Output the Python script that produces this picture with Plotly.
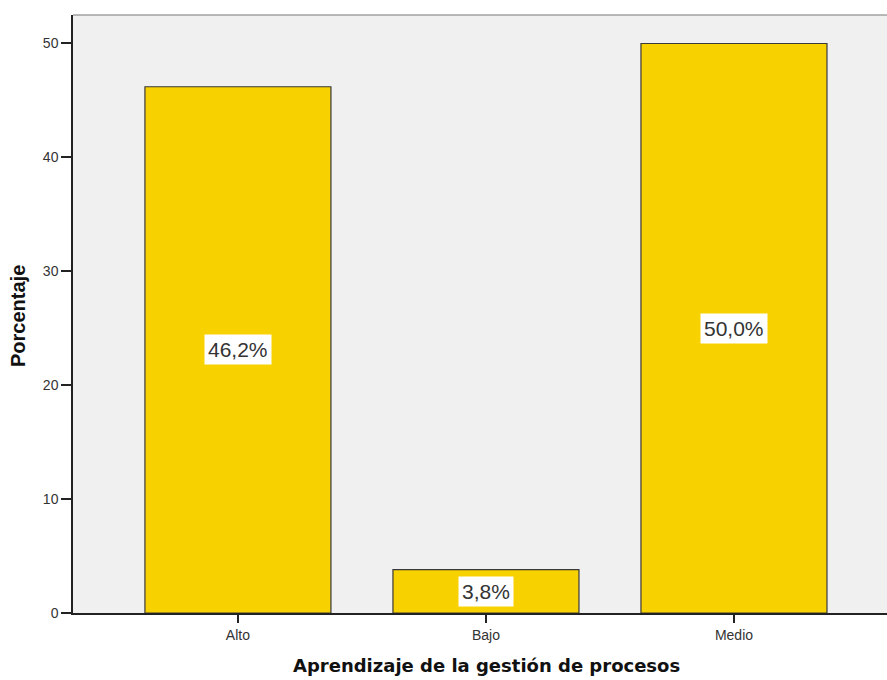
import plotly.graph_objects as go

categories = ["Alto", "Bajo", "Medio"]
values = [46.2, 3.8, 50.0]
labels = ["46,2%", "3,8%", "50,0%"]
y_ticks = [0, 10, 20, 30, 40, 50]
x_title = "Aprendizaje de la gestión de procesos"
y_title = "Porcentaje"

fig = go.Figure()
fig.add_trace(go.Bar(
    x=[0, 1, 2], y=values, width=0.75,
    marker=dict(color="#f8d100", line=dict(color="#3a3a3a", width=1.2)),
    hoverinfo="skip",
))

for i, (v, t) in enumerate(zip(values, labels)):
    fig.add_annotation(x=i, y=v / 2, text=t, showarrow=False,
                       font=dict(family="Liberation Sans, Arial", size=21, color="#333333"),
                       bgcolor="white", borderpad=3)

fig.add_shape(type="line", xref="paper", yref="paper", x0=0, x1=1, y0=1, y1=1,
              line=dict(color="#777777", width=1.2))

# axis titles
fig.add_annotation(xref="paper", yref="paper", x=(486 - 73) / (887 - 73), y=-52 / 598,
                   text="<b>" + x_title + "</b>", showarrow=False,
                   xanchor="center", yanchor="middle",
                   font=dict(family="DejaVu Sans, Verdana", size=18, color="#111111"))
fig.add_annotation(xref="paper", yref="paper", x=-55 / 814, y=(613 - 316) / 598,
                   text="<b>" + y_title + "</b>", showarrow=False, textangle=-90,
                   xanchor="center", yanchor="middle",
                   font=dict(family="Liberation Sans, Arial", size=20, color="#111111"))

fig.update_layout(
    width=887, height=680,
    margin=dict(l=73, r=0, t=15, b=67, autoexpand=False),
    paper_bgcolor="white", plot_bgcolor="#f0f0f0",
    showlegend=False,
    bargap=0.25,
    xaxis=dict(
        range=[-0.665, 2.617], tickvals=[0, 1, 2], ticktext=categories,
        ticks="outside", ticklen=8, tickwidth=1.5, tickcolor="#222222",
        showline=True, linecolor="#222222", linewidth=1.5,
        showgrid=False, zeroline=False, automargin=False,
        tickfont=dict(family="Liberation Sans, Arial", size=14, color="#333333"),
    ),
    yaxis=dict(
        range=[0, 52.5], tickvals=y_ticks,
        ticks="outside", ticklen=10, tickwidth=1.5, tickcolor="#222222",
        showline=True, linecolor="#222222", linewidth=1.5,
        showgrid=False, zeroline=False, automargin=False,
        tickfont=dict(family="Liberation Sans, Arial", size=14, color="#333333"),
    ),
)

fig.write_html("out.html", config={"displayModeBar": False},
               post_script="document.body.style.margin='0px';document.body.style.overflow='hidden';")
